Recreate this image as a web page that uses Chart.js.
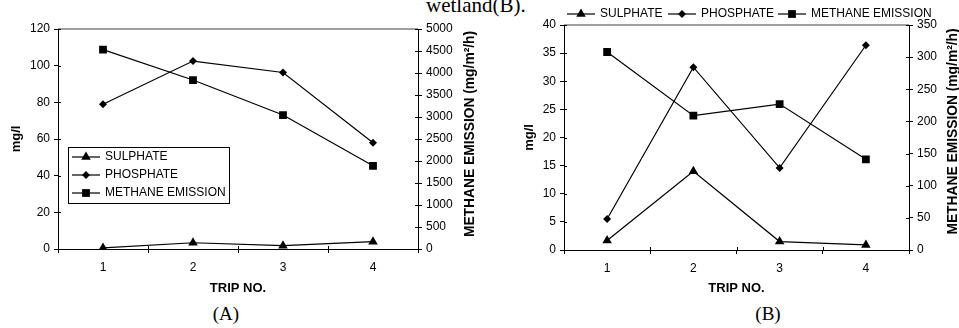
<!DOCTYPE html>
<html lang="en">
<head>
<meta charset="UTF-8">
<title>Sulphate, phosphate and methane emission per trip</title>
<script src="https://cdn.jsdelivr.net/npm/chart.js"></script>
<style>
  body {
    margin: 0;
    width: 959px;
    height: 328px;
    background: #fff;
    position: relative;
    overflow: hidden;
  }
  .box { position: absolute; top: 0; height: 300px; }
  #boxA { left: 0; width: 480px; }
  #boxB { left: 480px; width: 479px; }
  .cap {
    position: absolute;
    font-family: "Liberation Serif", "Times New Roman", serif;
    line-height: 1;
    color: #000;
    white-space: nowrap;
  }
  #topText { left: 426px; top: -5px; font-size: 21px; }
  #capA, #capB { top: 304px; width: 100px; text-align: center; font-size: 19px; }
  #capA { left: 176px; }
  #capB { left: 718px; }
</style>
</head>
<body>
<div class="cap" id="topText">wetland(B).</div>
<div class="box" id="boxA"><canvas id="chartA"></canvas></div>
<div class="box" id="boxB"><canvas id="chartB"></canvas></div>
<div class="cap" id="capA">(A)</div>
<div class="cap" id="capB">(B)</div>

<script>
  const trips = ['1', '2', '3', '4'];
  const seriesNames = ['SULPHATE', 'PHOSPHATE', 'METHANE EMISSION'];

  // wetland A
  const sulphateA = [0.6, 3.4, 1.8, 4.0];
  const phosphateA = [79, 102.5, 96.3, 58];
  const methaneA = [4530, 3840, 3045, 1890];

  // wetland B
  const sulphateB = [1.7, 14.0, 1.5, 0.9];
  const phosphateB = [5.5, 32.5, 14.6, 36.4];
  const methaneB = [308, 209, 227, 141];

  const FONT = '"Liberation Sans", Arial, sans-serif';
  Chart.defaults.font.family = FONT;
  Chart.defaults.color = '#000';

  // top border, inner half of the tick marks, right axis title (reads upwards)
  const framePlugin = {
    id: 'frame',
    afterDraw(chart, args, opts) {
      const { ctx, chartArea: a, scales } = chart;
      ctx.save();
      ctx.strokeStyle = '#7f7f7f';
      ctx.lineWidth = 1.5;
      ctx.beginPath();
      ctx.moveTo(a.left, a.top);
      ctx.lineTo(a.right, a.top);
      ctx.stroke();

      ctx.strokeStyle = '#000';
      ctx.lineWidth = 1;
      ctx.beginPath();
      for (let i = 0; i <= trips.length; i++) {
        const px = Math.round(scales.x.getPixelForValue(i - 0.5)) + 0.5;
        ctx.moveTo(px, a.bottom);
        ctx.lineTo(px, a.bottom - 3);
      }
      ['y', 'y1'].forEach(id => {
        const s = scales[id];
        const x0 = id === 'y' ? a.left : a.right;
        const dir = id === 'y' ? 1 : -1;
        s.ticks.forEach((t, i) => {
          const py = Math.round(s.getPixelForTick(i)) + 0.5;
          ctx.moveTo(x0, py);
          ctx.lineTo(x0 + 3 * dir, py);
        });
      });
      ctx.stroke();

      ctx.fillStyle = '#000';
      ctx.font = 'bold 13.8px ' + FONT;
      ctx.textAlign = 'center';
      ctx.textBaseline = 'middle';
      ctx.translate(a.right + opts.titleGap, (a.top + a.bottom) / 2 + opts.titleDy);
      ctx.rotate(-Math.PI / 2);
      ctx.fillText('METHANE EMISSION (mg/m²/h)', 0, 0);
      ctx.restore();
    }
  };

  // legend drawn as line + marker + label
  const keyPlugin = {
    id: 'key',
    afterDraw(chart, args, opts) {
      const { ctx } = chart;
      ctx.save();
      if (opts.box) {
        ctx.strokeStyle = '#000';
        ctx.lineWidth = 1;
        ctx.strokeRect(opts.box[0] + 0.5, opts.box[1] + 0.5, opts.box[2], opts.box[3]);
      }
      ctx.font = '12px ' + FONT;
      ctx.textBaseline = 'middle';
      chart.data.datasets.forEach((ds, i) => {
        const [x, y] = opts.items[i];
        ctx.strokeStyle = '#000';
        ctx.lineWidth = 1.2;
        ctx.beginPath();
        ctx.moveTo(x, y);
        ctx.lineTo(x + 28, y);
        ctx.stroke();
        ctx.fillStyle = '#000';
        Chart.helpers.drawPoint(ctx, {
          pointStyle: ds.pointStyle, radius: ds.pointRadius, rotation: 0, borderWidth: 0
        }, x + 14, y);
        ctx.fillText(ds.label, x + 33, y);
      });
      ctx.restore();
    }
  };

  function axisY(pos, max, step, width, title, titlePad) {
    return {
      position: pos,
      min: 0,
      max: max,
      grid: { drawOnChartArea: false, tickLength: 4, color: '#000' },
      border: { color: '#000', width: 1 },
      ticks: {
        stepSize: step, autoSkip: false, padding: 4, font: { size: 12 },
        callback: v => String(v)
      },
      title: {
        display: !!title, text: title,
        font: { size: 13, weight: 'bold' },
        padding: { top: titlePad, bottom: 0 }
      },
      afterFit(s) { s.width = width; }
    };
  }

  function makeChart(id, sul, pho, met, o) {
    return new Chart(document.getElementById(id), {
      type: 'line',
      data: {
        labels: trips,
        datasets: [
          { label: seriesNames[0], data: sul, yAxisID: 'y', pointStyle: 'triangle', pointRadius: 5.5 },
          { label: seriesNames[1], data: pho, yAxisID: 'y', pointStyle: 'rectRot', pointRadius: 4 },
          { label: seriesNames[2], data: met, yAxisID: 'y1', pointStyle: 'rect', pointRadius: 5.5 }
        ].map(d => Object.assign(d, {
          borderColor: '#000', backgroundColor: '#000', borderWidth: 1.2,
          pointBackgroundColor: '#000', pointBorderWidth: 0, pointHoverRadius: d.pointRadius,
          tension: 0
        }))
      },
      options: {
        responsive: true,
        maintainAspectRatio: false,
        animation: false,
        layout: { padding: { top: o.top, left: 0, right: 0, bottom: 0 } },
        plugins: {
          legend: { display: false },
          tooltip: { enabled: false },
          frame: { titleGap: o.titleGap, titleDy: o.titleDy },
          key: o.key
        },
        scales: {
          x: {
            type: 'category',
            offset: true,
            grid: { offset: true, drawOnChartArea: false, tickLength: 4, color: '#000' },
            border: { color: '#000', width: 1 },
            ticks: { padding: 7, font: { size: 12 } },
            title: {
              display: true, text: 'TRIP NO.',
              font: { size: 13, weight: 'bold' },
              padding: { top: 0, bottom: 4 }
            },
            afterFit(s) { s.height = 300 - o.bottom; }
          },
          y: axisY('left', o.maxL, o.stepL, o.left, 'mg/l', o.titlePadL),
          y1: axisY('right', o.maxR, o.stepR, o.width - o.right, '', 0)
        }
      },
      plugins: [framePlugin, keyPlugin]
    });
  }

  makeChart('chartA', sulphateA, phosphateA, methaneA, {
    width: 480, top: 29, bottom: 249, left: 58, right: 418,
    maxL: 120, stepL: 20, maxR: 5000, stepR: 500,
    titlePadL: 9, titleGap: 52, titleDy: -5,
    key: { box: [68, 147, 161, 56], items: [[72, 157], [72, 175], [72, 193]] }
  });

  makeChart('chartB', sulphateB, phosphateB, methaneB, {
    width: 479, top: 25, bottom: 250, left: 84, right: 429,
    maxL: 40, stepL: 5, maxR: 350, stepR: 50,
    titlePadL: 42, titleGap: 44, titleDy: -6,
    key: { box: null, items: [[87, 14], [188, 14], [298, 14]] }
  });
</script>
</body>
</html>
